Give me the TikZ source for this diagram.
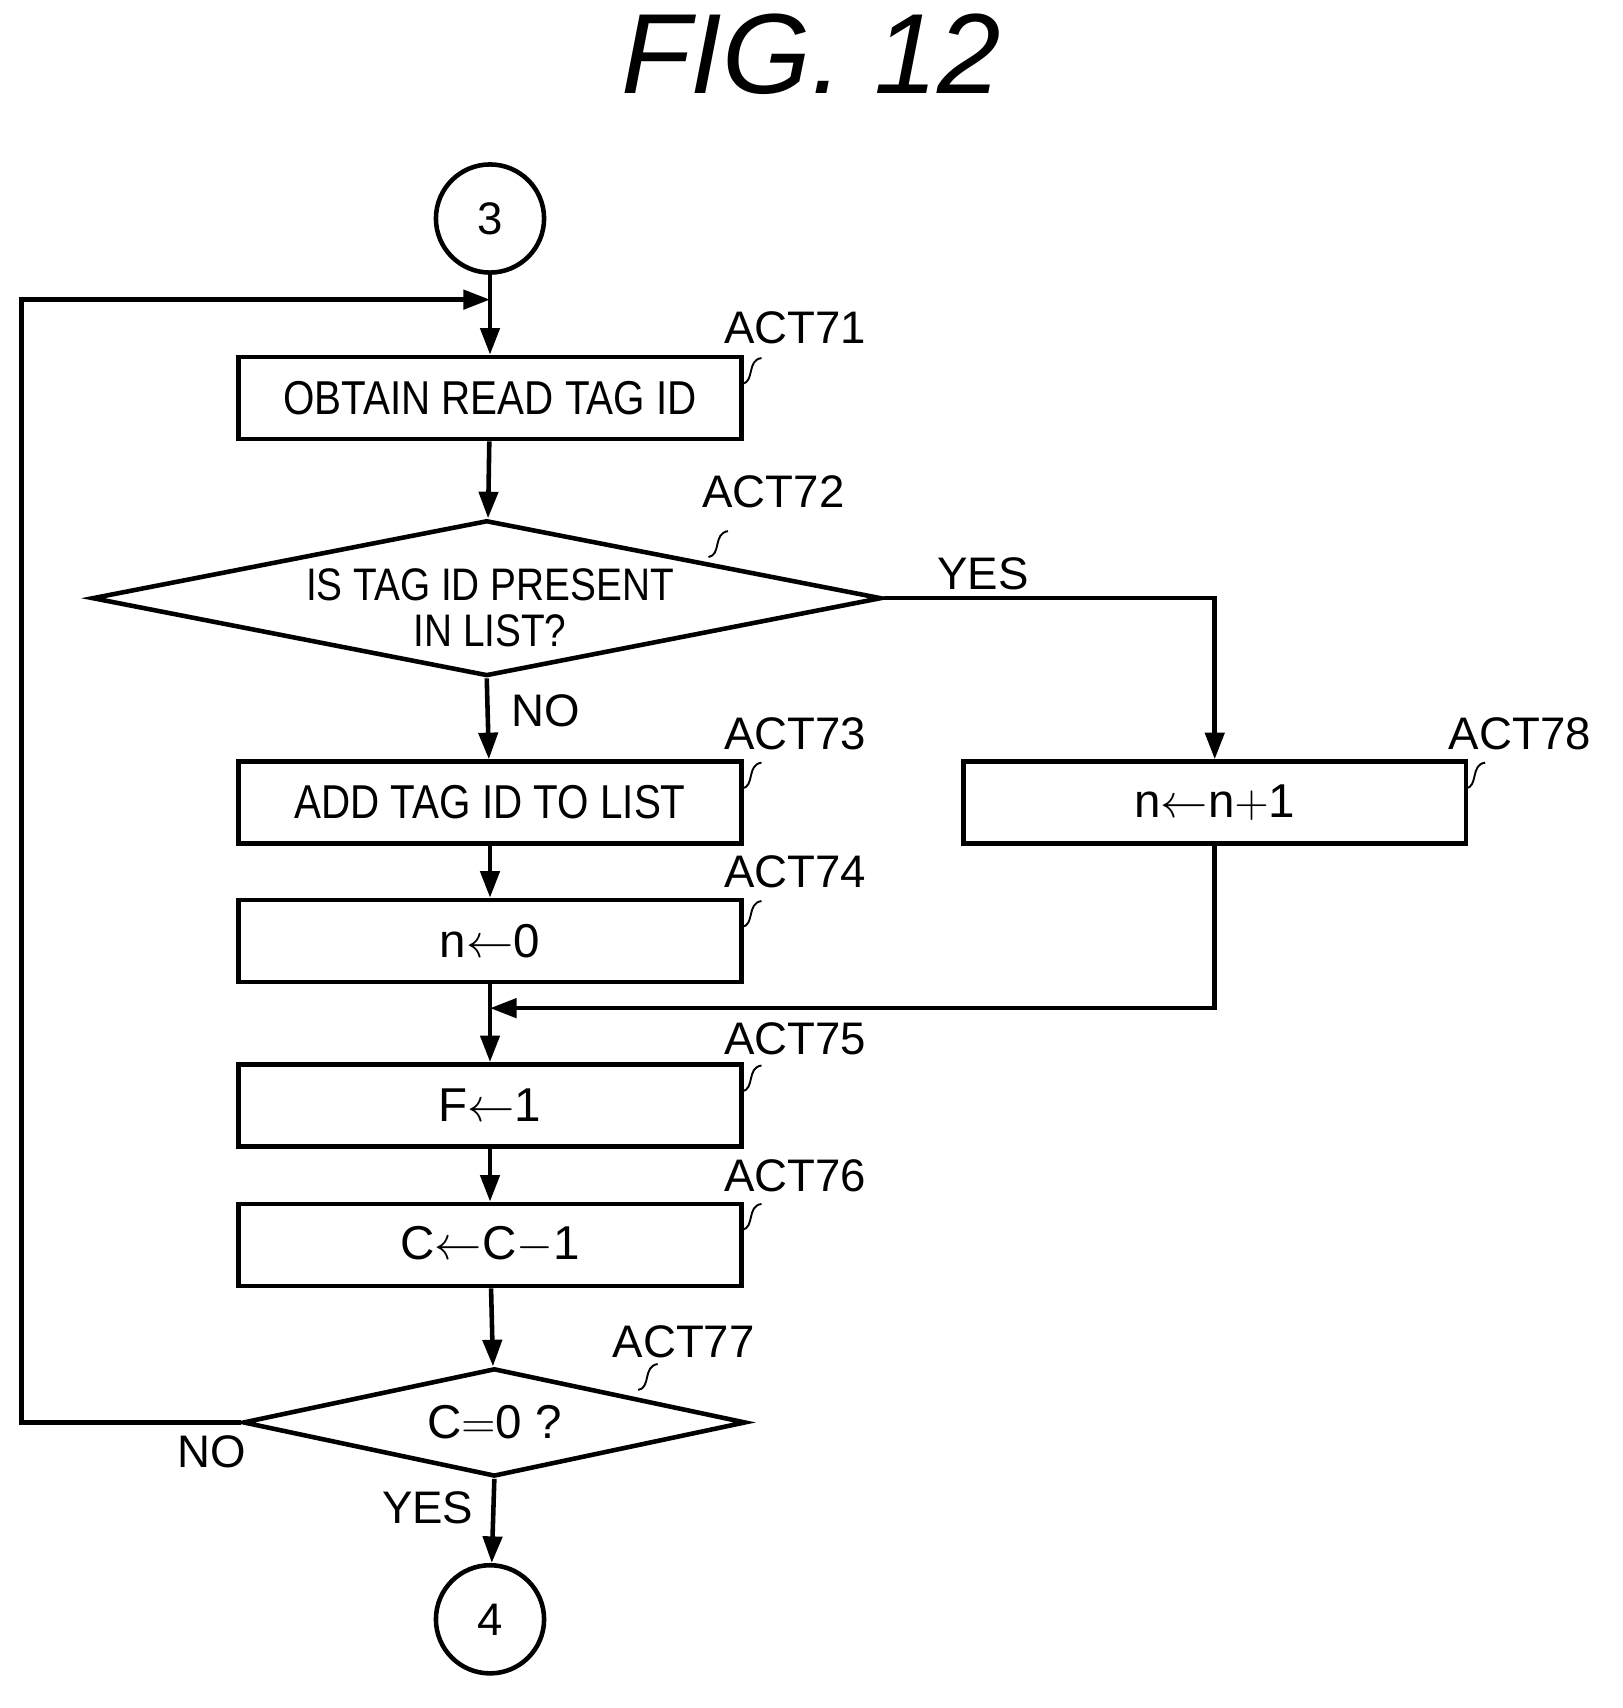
\documentclass[tikz,border=0pt]{standalone}
\usepackage{fontspec}
\setmainfont{Liberation Sans}
\usetikzlibrary{shapes.geometric,arrows.meta}
\begin{document}
\begin{tikzpicture}[x=0.02cm,y=-0.02cm,
  line width=2.4pt,>={Triangle[length=14pt,width=10pt]},
  box/.style={draw,minimum width=9.3cm,minimum height=1.52cm,font=\fontsize{25}{28}\selectfont},
  term/.style={draw,circle,minimum size=2cm,font=\fontsize{24}{28}\selectfont},
  lbl/.style={font=\fontsize{24}{28}\selectfont}]

\useasboundingbox (0,0) rectangle (1500,1579);

\node[font=\fontsize{60}{66}\selectfont\itshape] (title) at (750,50) {FIG. 12};

\node[term] (c3) at (453,202) {3};
\node[box] (a71) at (453,368) {\scalebox{0.85}[1]{OBTAIN READ TAG ID}};
\node[draw,diamond,aspect=5.07,minimum width=14.6cm,minimum height=2.88cm,inner sep=0pt] (a72) at (450,553) {};
\node[lbl,align=center] (q72) at (453,562) {\scalebox{0.85}[1]{IS TAG ID PRESENT}\\[-4pt]\scalebox{0.85}[1]{IN LIST?}};
\node[box] (a73) at (453,742) {\scalebox{0.85}[1]{ADD TAG ID TO LIST}};
\node[box] (a74) at (453,870) {n$\leftarrow$0};
\node[box] (a75) at (453,1022) {F$\leftarrow$1};
\node[box] (a76) at (453,1151) {C$\leftarrow$C$-$1};
\node[draw,diamond,aspect=4.65,minimum width=9.3cm,minimum height=2cm,inner sep=0pt,font=\fontsize{25}{28}\selectfont] (a77) at (457,1315) {C$=$0 ?};
\node[box] (a78) at (1123,742) {n$\leftarrow$n$+$1};
\node[term] (c4) at (453,1497) {4};

% step labels
\foreach \n/\b/\x/\y in {71/a71/735/303, 72/a72/715/455, 73/a73/735/678, 74/a74/735/806,
                         75/a75/735/960, 76/a76/735/1087, 77/a77/632/1240, 78/a78/1405/678} {
    \node[lbl] (t\n) at (\x,\y) {ACT\n};
}
\foreach \t/\s/\e in {t71/686/355, t73/686/729, t74/686/857, t75/686/1009, t76/686/1137, t78/1355/729} {
    \draw[line width=1pt] (\s,\e) .. controls (\s+12,\e-2) and (\s+4,\e-22) .. (\s+18,\e-24);
}
\draw[line width=1pt] (655,515) .. controls (667,513) and (659,493) .. (673,491);
\draw[line width=1pt] (590,1285) .. controls (602,1283) and (594,1263) .. (608,1261);

\coordinate (m1) at (453,277);
\coordinate (m2) at (453,932);

\draw[->] (c3) -- (a71);
\draw[->] (a71) -- (a72);
\draw[->] (a72.south) -- (a73) node[lbl,pos=0.4,right=8pt] {NO};
\draw[->] (a73) -- (a74);
\draw[->] (a74) -- (a75);
\draw[->] (a75) -- (a76);
\draw[->] (a76) -- (a77);
\draw[->] (a77.south) -- (c4) node[lbl,pos=0.35,left=6pt] {YES};
\draw[->] (a72.east) -| (a78) node[lbl,pos=0.15,above] {YES};
\draw[->] (a78) |- (m2);
\draw[->] (a77.west) -| (20,277) -- (m1);
\node[lbl] (no77) at (196,1342) {NO};

\end{tikzpicture}
\end{document}
